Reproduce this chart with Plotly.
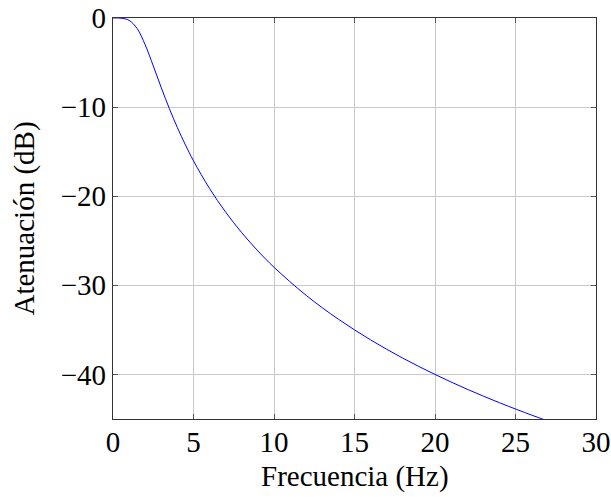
import plotly.graph_objects as go

freq_hz = [0, 0.5, 1, 1.5, 2, 2.5, 3, 3.5, 4, 4.5, 5, 6, 7, 8, 9, 10, 12, 14, 16, 18, 20, 22, 24, 26, 27]
atten_db = [0, -0.02, -0.26, -1.19, -3.01, -5.37, -7.83, -10.16, -12.30, -14.25, -16.03,
            -19.14, -21.79, -24.10, -26.14, -27.97, -31.13, -33.80, -36.12, -38.17,
            -40.00, -41.66, -43.17, -44.56, -45.21]
x_ticks = [0, 5, 10, 15, 20, 25, 30]
y_ticks = [0, -10, -20, -30, -40]
x_title = "Frecuencia (Hz)"
y_title = "Atenuación (dB)"

fig = go.Figure()
fig.add_trace(go.Scatter(x=freq_hz, y=atten_db, mode="lines",
                         line=dict(color="#0000ff", width=1, shape="spline"),
                         showlegend=False, cliponaxis=True))

font = dict(family="Liberation Serif, Times New Roman, serif", size=29, color="black")
axis_common = dict(showgrid=True, gridcolor="#c8c8c8", gridwidth=1,
                   showline=True, linecolor="#333333", linewidth=1.2, mirror="ticks",
                   ticks="inside", ticklen=5, tickcolor="#555555", tickwidth=1,
                   zeroline=False, tickfont=font, automargin=False)

fig.update_xaxes(range=[0, 30], tickvals=x_ticks, ticklabelstandoff=-3, **axis_common)
fig.update_yaxes(range=[-45, 0], tickvals=y_ticks, **axis_common)

fig.add_annotation(text=x_title, xref="paper", yref="paper", x=0.5, y=-0.1446,
                   xanchor="center", yanchor="middle", showarrow=False, font=font,
                   borderpad=0)
fig.add_annotation(text=y_title, xref="paper", yref="paper", x=-0.1822, y=0.5,
                   xanchor="center", yanchor="middle", textangle=-90, showarrow=False,
                   font=font, borderpad=0)

fig.update_layout(width=611, height=497, margin=dict(l=113, r=15, t=18, b=78),
                  plot_bgcolor="white", paper_bgcolor="white", font=font)
fig.write_html("out.html")
